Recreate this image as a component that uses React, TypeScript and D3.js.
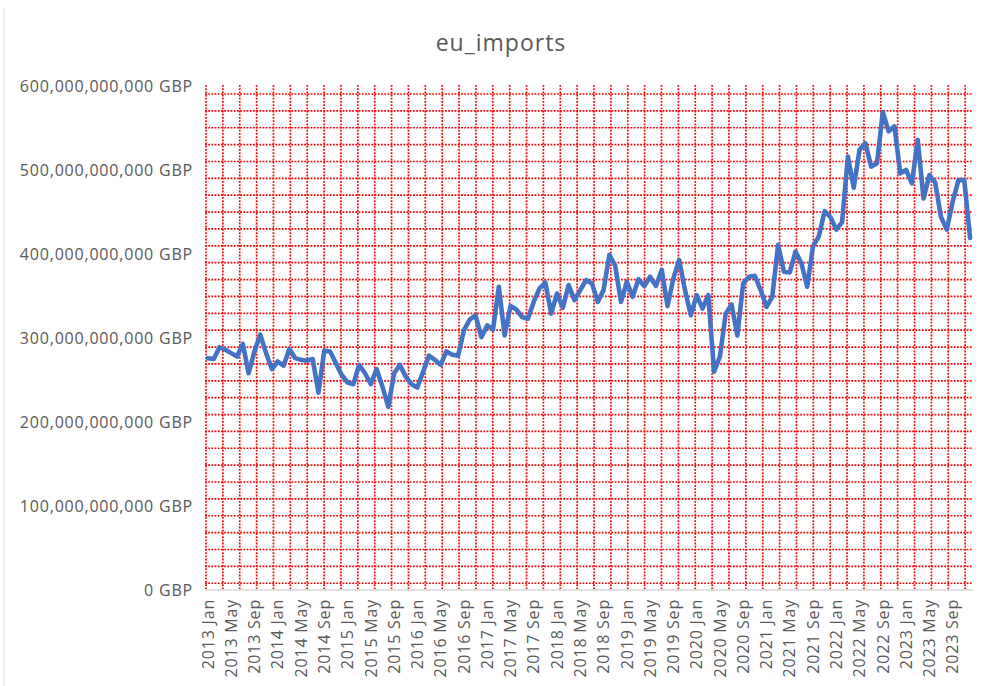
import React from "react";
import { scaleLinear, scalePoint, line as d3_line, range, format } from "d3";

const years = [2013, 2014, 2015, 2016, 2017, 2018, 2019, 2020, 2021, 2022, 2023];
const monthNames = ["Jan", "Feb", "Mar", "Apr", "May", "Jun", "Jul", "Aug", "Sep", "Oct", "Nov", "Dec"];

// eu_imports, billions of GBP, one value per month Jan 2013 .. Dec 2023
const imports2013_2015 = [
    276, 275, 289, 286, 282, 278, 293, 258, 284, 304, 282, 263,
    272, 267, 287, 276, 274, 273, 275, 235, 285, 284, 270, 256,
    247, 245, 268, 258, 245, 263, 242, 218, 258, 268, 254, 245,
];
const imports2016_2018 = [
    241, 260, 279, 274, 268, 284, 280, 279, 309, 322, 327, 301,
    315, 310, 361, 303, 338, 334, 325, 323, 343, 359, 366, 329,
    353, 336, 363, 345, 357, 369, 365, 343, 357, 399, 386, 343,
];
const imports2019_2021 = [
    367, 349, 370, 362, 373, 362, 381, 338, 371, 393, 357, 327,
    351, 335, 351, 260, 278, 329, 340, 303, 365, 373, 374, 357,
    337, 349, 411, 379, 378, 403, 389, 361, 409, 421, 451, 444,
];
const imports2022_2023 = [
    429, 438, 516, 479, 524, 532, 504, 508, 569, 546, 552, 496,
    500, 484, 536, 466, 494, 485, 444, 429, 462, 488, 488, 419,
];

const yTicks = [0, 100e9, 200e9, 300e9, 400e9, 500e9, 600e9];

const categories = years.flatMap((y) => monthNames.map((m) => `${y} ${m}`));
const values = [...imports2013_2015, ...imports2016_2018, ...imports2019_2021, ...imports2022_2023].map((v) => v * 1e9);

const W = 983;
const H = 686;
const plot = { left: 205, right: 973, top: 86, bottom: 590 };
const gridStep = 16.87;
const fontFamily = "'Open Sans', sans-serif";

export default function App() {
    const xScale = scalePoint<string>().domain(categories).range([plot.left, plot.right]).padding(0.5);
    const yScale = scaleLinear().domain([0, 600e9]).range([plot.bottom, plot.top]);

    const data = categories.map((c, i) => ({ c, v: values[i] }));
    const path = d3_line<(typeof data)[number]>()
        .x((d) => xScale(d.c) ?? 0)
        .y((d) => yScale(d.v))(data);

    const fmt = format(",");

    // plot-area pattern fill (dotted red grid), not tied to the ticks
    const vLines = range(plot.left + 1, plot.right, gridStep);
    const hLines = range(plot.top + 8, plot.bottom - 2, gridStep);

    return (
        <svg
            width={W}
            height={H}
            style={{ position: "absolute", left: 0, top: 0, background: "#fff" }}
        >
            <line x1={4} x2={4} y1={8} y2={H} stroke="#D9D9D9" strokeWidth={1} />

            <text
                x={501}
                y={51}
                textAnchor="middle"
                fontFamily={fontFamily}
                fontSize={23}
                letterSpacing={1}
                fill="#595959"
            >
                eu_imports
            </text>

            {/* grid pattern */}
            <g stroke="#FF0000" strokeWidth={1.7} strokeDasharray="1.8,1.4">
                {hLines.map((y, i) => (
                    <line key={`h${i}`} x1={plot.left} x2={plot.right} y1={y} y2={y} />
                ))}
                {vLines.map((x, i) => (
                    <line key={`v${i}`} x1={x} x2={x} y1={plot.top - 1} y2={plot.bottom} />
                ))}
            </g>

            {/* x axis line */}
            <line x1={plot.left} x2={plot.right} y1={plot.bottom} y2={plot.bottom} stroke="#D9D9D9" strokeWidth={1.5} />

            {/* y axis labels */}
            {yTicks.map((t) => (
                <text
                    key={t}
                    x={193}
                    y={yScale(t)}
                    dy="0.35em"
                    textAnchor="end"
                    fontFamily={fontFamily}
                    fontSize={16}
                    letterSpacing={0.8}
                    fill="#595959"
                >
                    {fmt(t)} GBP
                </text>
            ))}

            {/* x axis labels, every 4 months */}
            {categories
                .filter((_, i) => i % 4 === 0)
                .map((c) => (
                    <text
                        key={c}
                        transform={`translate(${xScale(c)},${plot.bottom + 9}) rotate(-90)`}
                        dy="0.36em"
                        textAnchor="end"
                        fontFamily={fontFamily}
                        fontSize={16}
                        letterSpacing={0.8}
                        fill="#595959"
                    >
                        {c}
                    </text>
                ))}

            {/* series */}
            <path
                d={path ?? ""}
                fill="none"
                stroke="#4472C4"
                strokeWidth={4.6}
                strokeLinejoin="round"
                strokeLinecap="round"
            />
        </svg>
    );
}
